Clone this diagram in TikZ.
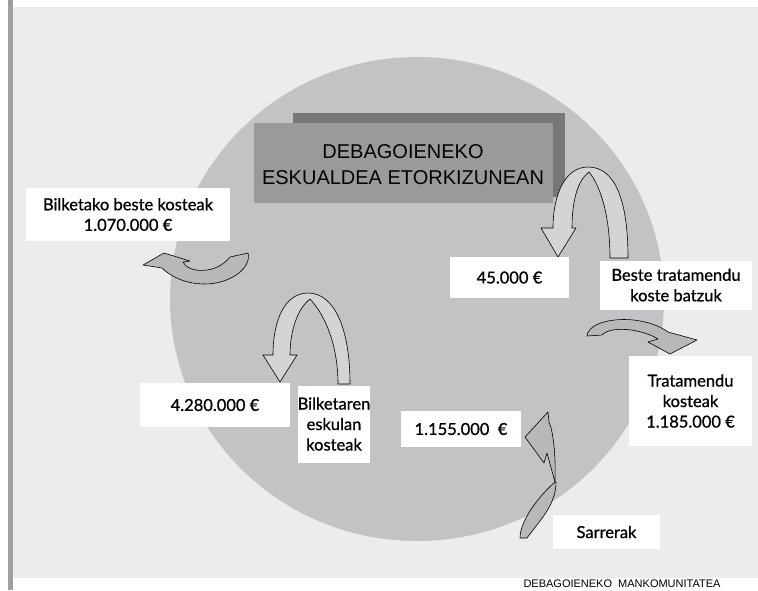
\documentclass[tikz,border=0pt]{standalone}
\usepackage{fontspec}
\setmainfont{Lato}
\newfontfamily\lblfont{Lato}[FakeBold=0.9]
\newfontfamily\headfont{Liberation Sans}
\definecolor{panelgray}{HTML}{EBECEB}
\definecolor{discgray}{HTML}{C2C3C4}
\definecolor{backbox}{HTML}{777777}
\definecolor{frontbox}{HTML}{9A9A9A}
\definecolor{arrowlight}{HTML}{D4D4D4}
\definecolor{arrowdark}{HTML}{B8B8B8}

\begin{document}
\begin{tikzpicture}[x=1pt, y=-1pt, line cap=round, line join=round,
  lbl/.style={fill=white, inner sep=0pt, align=center, font=\lblfont\fontsize{16.5}{20.5}\selectfont},
  turn/.style={draw=black, line width=0.6pt},
  headtext/.style={align=center, inner sep=0pt, font=\headfont\fontsize{20}{26}\selectfont}]

\useasboundingbox (0,0) rectangle (758,590);

% --- Background panel and left rule ---
\fill[white] (0,0) rectangle (758,590);
\fill[panelgray] (12,7) rectangle (758,578);
\fill[gray!75] (8,0) rectangle (12.5,590);

% --- Big disc ---
\def\cx{417}
\def\cy{299}
\fill[discgray] (\cx,\cy) ellipse [x radius=247, y radius=242];

% --- Title boxes (shadow behind, lighter box in front) ---
\fill[backbox] (293,113) rectangle (565,197);
\fill[frontbox] (254,123) rectangle (553,203);
\node[headtext] (title) at (403,165) {DEBAGOIENEKO\\ESKUALDEA ETORKIZUNEAN};

% --- U-turn arrow near the title ---
\filldraw[turn, fill=arrowlight] (628,258) .. controls (628,200) and (615,167) .. (588,167)
  .. controls (565,167) and (553,195) .. (553,228) -- (541,228) -- (558,257) -- (576,228) -- (572,228)
  .. controls (572,200) and (578,180) .. (589,172)
  .. controls (600,185) and (610,215) .. (610,258) -- cycle;

% --- U-turn arrow on the left half ---
\filldraw[turn, fill=arrowlight] (350,384) .. controls (350,330) and (335,293) .. (308,293)
  .. controls (285,293) and (273,320) .. (273,355) -- (263,355) -- (280,382) -- (297,355) -- (290,355)
  .. controls (290,330) and (298,308) .. (310,299)
  .. controls (325,315) and (338,345) .. (338,384) -- cycle;

% --- Curved arrow pointing left ---
\filldraw[turn, fill=arrowdark] (143,265) -- (164,253) -- (190,261) -- (183,262)
  .. controls (188,273) and (216,275) .. (230,257) -- (248,253)
  .. controls (252,268) and (230,284) .. (205,284)
  .. controls (185,284) and (170,276) .. (162,268) -- cycle;

% --- Curved arrow pointing right ---
\filldraw[turn, fill=arrowdark] (587,336) .. controls (588,318) and (640,312) .. (668,332)
  -- (697,340) -- (670,354) -- (648,342) -- (658,339)
  .. controls (640,328) and (610,326) .. (602,335) -- cycle;

% --- Twisted arrow above Sarrerak ---
\filldraw[turn, fill=arrowdark] (548,412) -- (525,437) -- (544,463) -- (547,453) -- (555,482)
  .. controls (556,455) and (553,430) .. (549,422) -- cycle;
\filldraw[turn, fill=arrowdark] (555,482) .. controls (540,495) and (520,520) .. (520,538)
  -- (527,538) .. controls (540,520) and (556,505) .. (556,482) -- cycle;

% --- Value labels ---
\node[lbl, minimum width=204, minimum height=53] (other) at (128,214.5) {Bilketako beste kosteak\\1.070.000 €};
\node[lbl, minimum width=119, minimum height=41] (small) at (509.5,277.5) {45.000 €};
\node[lbl, minimum width=152, minimum height=49] (othertreat) at (676,285) {Beste tratamendu\\koste batzuk};
\node[lbl, minimum width=123, minimum height=90] (treat) at (690.5,401) {Tratamendu\\kosteak\\1.185.000 €};
\node[lbl, minimum width=150, minimum height=44] (labour) at (215,405) {4.280.000 €};
\node[lbl, minimum width=72, minimum height=77] (labourtxt) at (334,424) {Bilketaren\\eskulan\\kosteak};
\node[lbl, minimum width=120, minimum height=36] (income) at (461,429) {1.155.000\ \ €};
\node[lbl, minimum width=107, minimum height=34] (incometxt) at (606.5,532) {Sarrerak};

% --- Source line ---
\node[inner sep=0pt, font=\headfont\fontsize{11}{13}\selectfont] (source) at (622,584) {DEBAGOIENEKO\ \ MANKOMUNITATEA};

\end{tikzpicture}
\end{document}
